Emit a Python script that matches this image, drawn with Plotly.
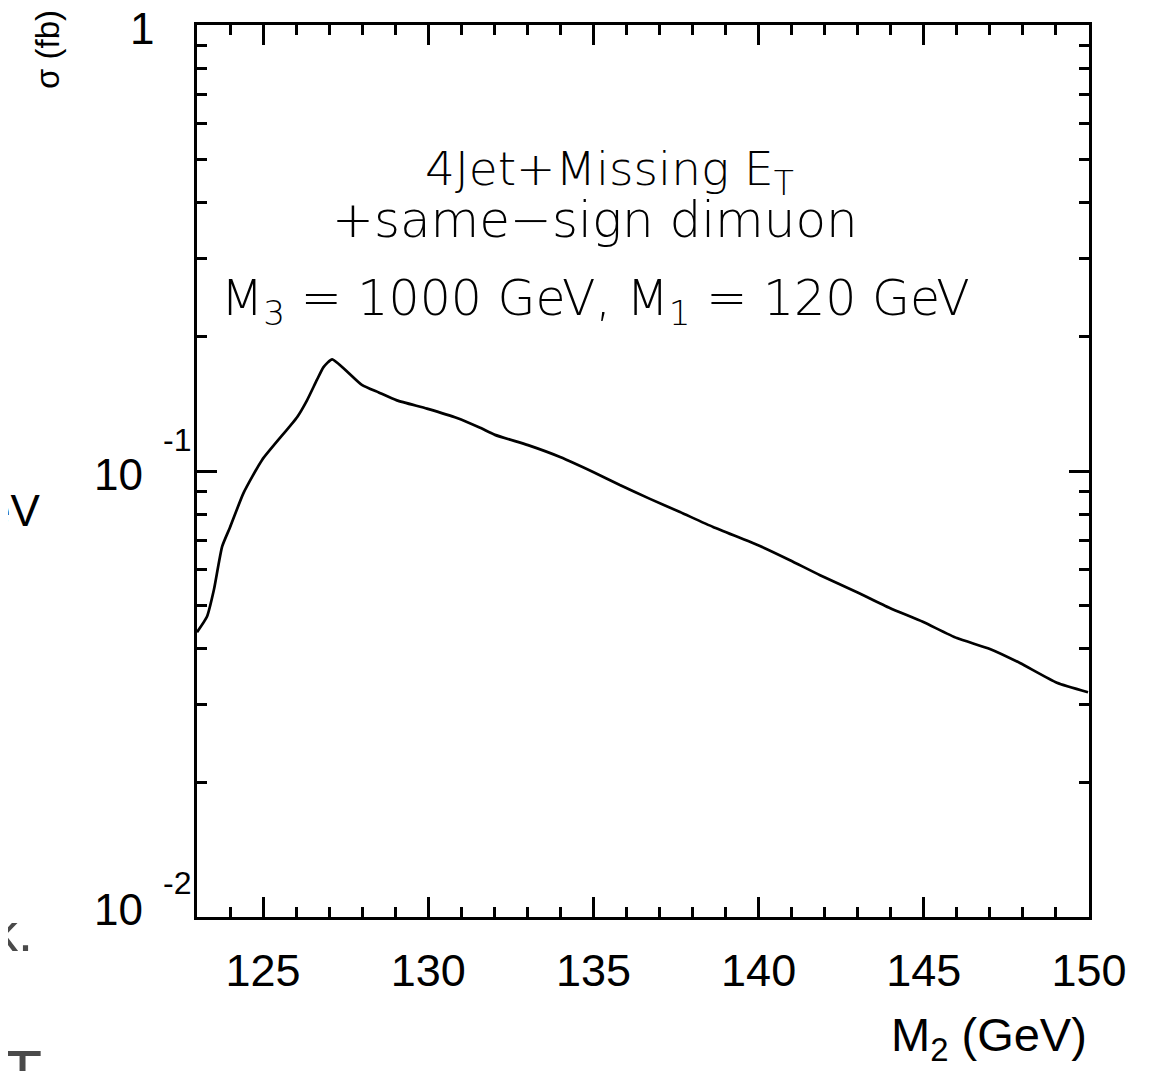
import math
import plotly.graph_objects as go

# ---- data ----
m2 = [123.0, 123.3, 123.51, 123.76, 124.0, 124.41, 124.97, 126.03, 126.33, 126.63,
      126.83, 127.09, 127.99, 128.5, 129.05, 129.96, 130.87, 131.57, 132.02, 133.02,
      133.99, 134.99, 135.8, 136.71, 137.62, 138.62, 140.04, 140.95, 141.86, 142.98,
      143.97, 144.97, 146.0, 147.0, 147.91, 149.03, 149.97]
sigma = [0.0435, 0.0471, 0.0541, 0.0677, 0.0748, 0.0893, 0.1059, 0.132, 0.144, 0.160,
         0.171, 0.178, 0.156, 0.150, 0.144, 0.138, 0.1315, 0.125, 0.1205, 0.1143,
         0.1075, 0.0995, 0.093, 0.0866, 0.0809, 0.0749, 0.0679, 0.0631, 0.0584, 0.0535,
         0.0493, 0.0459, 0.0422, 0.0399, 0.0371, 0.0335, 0.0319]

x_tickvals = [125, 130, 135, 140, 145, 150]
x_ticktext = ["125", "130", "135", "140", "145", "150"]
y_tickvals = [1, 0.1, 0.01]
y_mantissa = ["1", "10", "10"]
y_exponent = ["", "-1", "-2"]
y_minor = [k * 10.0 ** e for e in (-2, -1) for k in range(2, 10)]

OFF = 8  # default page body margin
W, H = 1161 - OFF, 1071 - OFF
L, R, T, B = 197 - OFF, 72, 25 - OFF, 154
PW, PH = W - L - R, H - T - B

def px_x(px):  # page pixel -> paper fraction
    return (px - OFF - L) / PW

def px_y(py):
    return (T + PH - (py - OFF)) / PH

fig = go.Figure()
fig.add_trace(go.Scatter(x=m2, y=sigma, mode="lines",
                         line=dict(color="black", width=2.7, shape="spline", smoothing=0.5),
                         showlegend=False, hoverinfo="skip"))

FAM = "Liberation Sans, Arial, sans-serif"
axis_font = dict(family=FAM, size=44, color="black")

fig.update_xaxes(range=[123, 150], showgrid=False, zeroline=False,
                 showline=True, linewidth=3, linecolor="black", mirror="allticks",
                 ticks="inside", ticklen=20, tickwidth=3, tickcolor="black",
                 tickvals=x_tickvals, ticktext=x_ticktext,
                 tickfont=dict(family=FAM, size=45, color="black"),
                 ticklabelstandoff=12,
                 minor=dict(dtick=1, tick0=123, ticks="inside", ticklen=10,
                            tickwidth=3, tickcolor="black"))
fig.update_yaxes(type="log", range=[-2, 0], showgrid=False, zeroline=False,
                 showline=True, linewidth=3, linecolor="black", mirror="allticks",
                 ticks="inside", ticklen=20, tickwidth=3, tickcolor="black",
                 tickvals=y_tickvals, showticklabels=False,
                 minor=dict(tickvals=y_minor, ticks="inside", ticklen=10,
                            tickwidth=3, tickcolor="black"))

ann = []
# y tick labels (mantissa + exponent), placed on the log axis
man_shift = {1: -3, 0.1: -3, 0.01: 8}
exp_shift = {0.1: 31, 0.01: 34}
for v, m, e in zip(y_tickvals, y_mantissa, y_exponent):
    xr = px_x(156) if e == "" else px_x(145)
    ann.append(dict(x=xr, y=math.log10(v), xref="paper", yref="y", text=m,
                    showarrow=False, xanchor="right", yanchor="middle",
                    yshift=man_shift[v], font=axis_font))
    if e:
        ann.append(dict(x=px_x(193), y=math.log10(v), xref="paper", yref="y", text=e,
                        showarrow=False, xanchor="right", yanchor="middle",
                        yshift=exp_shift[v], font=dict(family=FAM, size=32, color="black")))

# axis titles
ann.append(dict(x=px_x(1089), y=px_y(1006), xref="paper", yref="paper",
                text="M<sub>2</sub> (GeV)", showarrow=False, xanchor="right",
                yanchor="top", font=dict(family=FAM, size=47, color="black")))
ann.append(dict(x=px_x(47), y=px_y(50), xref="paper", yref="paper",
                text="σ (fb)", showarrow=False, textangle=-90,
                xanchor="center", yanchor="middle",
                font=dict(family=FAM, size=33, color="black")))

# in-plot labels
def lab_font(size):
    return dict(family="DejaVu Sans, sans-serif", size=size, color="black", weight=300)

ann.append(dict(x=px_x(423), y=px_y(172), xref="paper", yref="paper",
                text="4Jet+Missing E<sub>T</sub>", showarrow=False,
                xanchor="left", yanchor="middle", font=lab_font(47)))
ann.append(dict(x=px_x(330), y=px_y(220), xref="paper", yref="paper",
                text="+same\u2212sign dimuon", showarrow=False,
                xanchor="left", yanchor="middle", font=lab_font(50)))
ann.append(dict(x=px_x(219), y=px_y(302), xref="paper", yref="paper",
                text="M<sub>3</sub> = 1000 GeV, M<sub>1</sub> = 120 GeV", showarrow=False,
                xanchor="left", yanchor="middle", font=lab_font(49)))

# fragments of the neighbouring panel at the left edge
ann.append(dict(x=px_x(42), y=px_y(510), xref="paper", yref="paper", text="eV",
                showarrow=False, xanchor="right", yanchor="middle", font=axis_font))
ann.append(dict(x=px_x(35), y=px_y(932), xref="paper", yref="paper", text="k.",
                showarrow=False, xanchor="right", yanchor="middle",
                font=dict(family=FAM, size=54, color="#4a4a4a")))
ann.append(dict(x=px_x(22), y=px_y(1036), xref="paper", yref="paper", text="T",
                showarrow=False, xanchor="center", yanchor="top",
                font=dict(family=FAM, size=64, color="#4a4a4a")))

fig.update_layout(width=W, height=H, margin=dict(l=L, r=R, t=T, b=B),
                  paper_bgcolor="white", plot_bgcolor="white",
                  annotations=ann, showlegend=False)

fig.write_html("out.html")
